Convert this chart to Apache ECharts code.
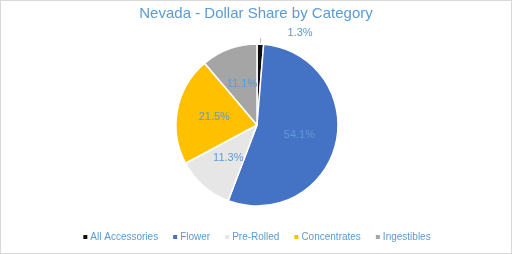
<!DOCTYPE html>
<html><head><meta charset="utf-8">
<script src="https://cdn.jsdelivr.net/npm/echarts@6/dist/echarts.min.js"></script>
<style>html,body{margin:0;padding:0;background:#fff}#c{width:510px;height:252px;border:1px solid #d9d9d9}</style>
</head><body><div id="c"></div>
<script>
const categories = ['All Accessories','Flower','Pre-Rolled','Concentrates','Ingestibles'];
const values = [1.3, 54.1, 11.3, 21.5, 11.1];
const colors = ['#0d0d0d','#4472c4','#e7e6e6','#ffc000','#a5a5a5'];
const chart = echarts.init(document.getElementById('c'));
const textColor = '#5b9bd5';
chart.setOption({
  animation:false,
  title:{text:'Nevada - Dollar Share by Category',left:'center',top:0,
    textStyle:{color:'#5b9bd5',fontSize:15,fontWeight:'normal',fontFamily:'Liberation Sans'}},
  legend:{bottom:6,left:'center',itemWidth:6,itemHeight:6,itemGap:13,icon:'rect',
    textStyle:{color:textColor,fontSize:10,fontFamily:'Liberation Sans',padding:[0,0,0,-3]},
    data:categories},
  series:[{type:'pie',center:[256,124],radius:[0,81],startAngle:90,clockwise:true,
    itemStyle:{borderColor:'#fff',borderWidth:1.5},
    label:{position:'inside',formatter:p=>p.value.toFixed(1)+'%',color:textColor,fontSize:11,fontFamily:'Liberation Sans'},
    data:categories.map((n,i)=>{
      const d={name:n,value:values[i],itemStyle:{color:colors[i]}};
      if(i===0){
        d.label={position:'outside',offset:[22,-5]};
        d.labelLine={show:true,length:6,length2:0,lineStyle:{color:'#bfbfbf',width:1}};
      }
      return d;
    })
  }]
});
</script></body></html>
